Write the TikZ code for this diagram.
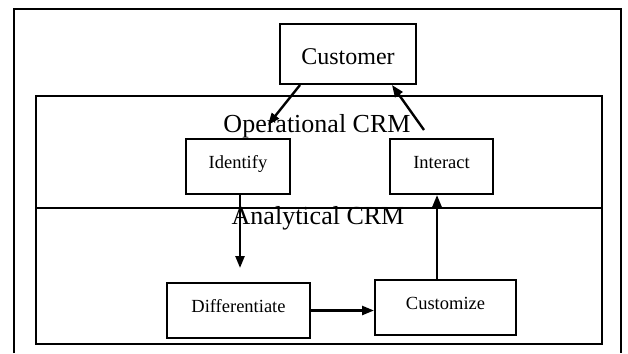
\documentclass[tikz,border=0pt]{standalone}
\usepackage{fontspec}
\setmainfont{Liberation Serif}
\usetikzlibrary{arrows.meta, positioning}

\begin{document}
\begin{tikzpicture}[x=1pt, y=-1pt,
    box/.style={draw, line width=2pt, inner sep=0pt, text height=0.7em, text depth=0.3em,
                font=\fontsize{18.5}{20}\selectfont},
    big/.style={font=\fontsize{26}{28}\selectfont, inner sep=0pt},
    arr/.style={line width=2.4pt, -{Triangle[length=12pt, width=9pt]}}]
    \useasboundingbox (0,0) rectangle (628,353);
    % frames
    \draw[line width=2pt] (14,353) -- (14,9) -- (621,9) -- (621,353);
    \draw[line width=2pt] (36,96) rectangle (602,344);
    \draw[line width=1.5pt] (36,208) -- (602,208);
    % labels of the two layers
    \node[big, anchor=base] (oper) at (317,132) {Operational CRM};
    \node[big, anchor=base] (anal) at (318,224) {Analytical CRM};
    % boxes
    \node[box, minimum width=136pt, minimum height=60pt, text height=21pt, text depth=0pt,
          font=\fontsize{24}{26}\selectfont] (cust) at (348,54) {Customer};
    \node[box, minimum width=104pt, minimum height=55pt] (ident) at (238,166.5) {Identify};
    \node[box, minimum width=103pt, minimum height=55pt] (inter) at (441.5,166.5) {Interact};
    \node[box, minimum width=143pt, minimum height=55pt] (diff) at (238.5,310.5) {Differentiate};
    \node[box, minimum width=141pt, minimum height=55pt] (custz) at (445.5,307.5) {Customize};
    % free ends
    \coordinate (opin) at (268,125);
    \coordinate (opout) at (424,130);
    \coordinate (anin) at (240,268);
    % connectors
    \draw[arr] (cust.south -| 300,0) -- (opin);
    \draw[arr] (opout) -- (cust.south -| 392,0);
    \draw[arr] (ident.south -| anin) -- (anin);
    \draw[arr] (diff.east) -- (diff.east -| custz.west);
    \draw[arr] (custz.north -| 437,0) -- (inter.south -| 437,0);
\end{tikzpicture}
\end{document}
